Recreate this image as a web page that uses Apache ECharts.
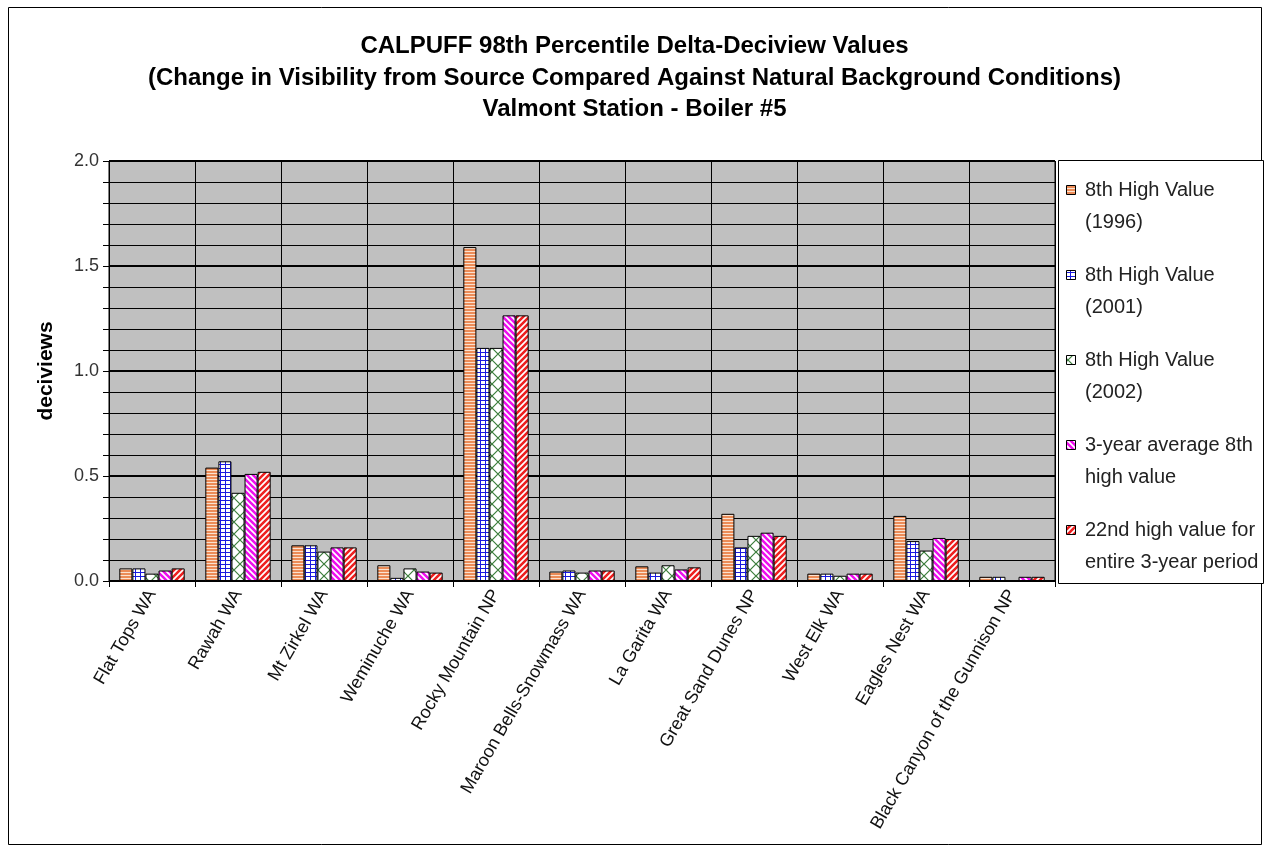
<!DOCTYPE html>
<html>
<head>
<meta charset="utf-8">
<script src="https://cdn.jsdelivr.net/npm/echarts@6/dist/echarts.min.js"></script>
<style>
html,body{margin:0;padding:0;background:#fff;}
#chart{width:1269px;height:850px;}
</style>
</head>
<body>
<div id="chart"></div>
<script>
const categories = ['Flat Tops WA','Rawah WA','Mt Zirkel WA','Weminuche WA','Rocky Mountain NP','Maroon Bells-Snowmass WA','La Garita WA','Great Sand Dunes NP','West Elk WA','Eagles Nest WA','Black Canyon of the Gunnison NP'];
const seriesNames = ['8th High Value (1996)','8th High Value (2001)','8th High Value (2002)','3-year average 8th high value','22nd high value for entire 3-year period'];
const legendLines = [['8th High Value','(1996)'],['8th High Value','(2001)'],['8th High Value','(2002)'],['3-year average 8th','high value'],['22nd high value for','entire 3-year period']];
const high1996 = [0.06, 0.54, 0.17, 0.075, 1.59, 0.045, 0.07, 0.32, 0.035, 0.31, 0.02];
const high2001 = [0.06, 0.57, 0.17, 0.015, 1.11, 0.05, 0.04, 0.16, 0.035, 0.19, 0.02];
const high2002 = [0.035, 0.42, 0.14, 0.06, 1.11, 0.04, 0.075, 0.215, 0.025, 0.145, 0];
const avg3yr = [0.05, 0.51, 0.16, 0.045, 1.265, 0.05, 0.055, 0.23, 0.035, 0.205, 0.02];
const high22nd = [0.06, 0.52, 0.16, 0.04, 1.265, 0.05, 0.065, 0.215, 0.035, 0.2, 0.02];
const yTicks = [0, 0.5, 1.0, 1.5, 2.0];

function pattern(kind){
  const c = document.createElement('canvas');
  let ctx;
  if(kind==='hstripe'){
    c.width=4; c.height=3; ctx=c.getContext('2d');
    ctx.fillStyle='#fbe2d0'; ctx.fillRect(0,0,4,3);
    ctx.fillStyle='#ec8c58'; ctx.fillRect(0,0,4,2);
  } else if(kind==='grid'){
    c.width=5; c.height=4; ctx=c.getContext('2d');
    ctx.fillStyle='#ffffff'; ctx.fillRect(0,0,5,4);
    ctx.fillStyle='#1a1ae0'; ctx.fillRect(0,0,5,1); ctx.fillRect(0,0,1,4);
  } else if(kind==='cross'){
    c.width=12; c.height=12; ctx=c.getContext('2d');
    ctx.fillStyle='#ffffff'; ctx.fillRect(0,0,12,12);
    ctx.strokeStyle='#3b7d3b'; ctx.lineWidth=1.2;
    ctx.beginPath(); ctx.moveTo(0,0); ctx.lineTo(12,12); ctx.moveTo(12,0); ctx.lineTo(0,12); ctx.stroke();
  } else if(kind==='bdiag'){
    c.width=6; c.height=6; ctx=c.getContext('2d');
    ctx.fillStyle='#ffffff'; ctx.fillRect(0,0,6,6);
    ctx.strokeStyle='#ee10ee'; ctx.lineWidth=2.6;
    ctx.beginPath();
    for(let k=-2;k<=2;k++){ ctx.moveTo(k*6-6,-6); ctx.lineTo(k*6+12,12); }
    ctx.stroke();
  } else if(kind==='fdiag'){
    c.width=6; c.height=6; ctx=c.getContext('2d');
    ctx.fillStyle='#ffffff'; ctx.fillRect(0,0,6,6);
    ctx.strokeStyle='#ee2020'; ctx.lineWidth=2.6;
    ctx.beginPath();
    for(let k=-2;k<=2;k++){ ctx.moveTo(k*6+12,-6); ctx.lineTo(k*6-6,12); }
    ctx.stroke();
  }
  return {image:c, repeat:'repeat'};
}
const patterns = [pattern('hstripe'), pattern('grid'), pattern('cross'), pattern('bdiag'), pattern('fdiag')];
const values = [high1996, high2001, high2002, avg3yr, high22nd];

const chart = echarts.init(document.getElementById('chart'), null, {renderer:'canvas'});
const FONT = 'Liberation Sans, Arial, sans-serif';

const legendGraphics = [];
legendLines.forEach((lines, i) => {
  const y0 = 190 + i*85;
  legendGraphics.push({type:'rect', shape:{x:1066.5, y:y0-4.5, width:9, height:9}, style:{fill:patterns[i], stroke:'#000', lineWidth:1}});
  legendGraphics.push({type:'text', x:1085, y:y0, style:{text:lines[0], font:'20px '+FONT, fill:'#222', verticalAlign:'middle'}});
  legendGraphics.push({type:'text', x:1085, y:y0+32, style:{text:lines[1], font:'20px '+FONT, fill:'#222', verticalAlign:'middle'}});
});

chart.setOption({
  animation:false,
  backgroundColor:'#ffffff',
  textStyle:{fontFamily:FONT},
  title:{
    text:'CALPUFF 98th Percentile Delta-Deciview Values\n(Change in Visibility from Source Compared Against Natural Background Conditions)\nValmont Station - Boiler #5',
    left:'center', top:31, padding:0,
    textStyle:{fontFamily:FONT, fontWeight:'bold', fontSize:24, lineHeight:31.5, color:'#000'}
  },
  grid:{left:109, right:214, top:161, bottom:269, show:true, backgroundColor:'#c0c0c0', borderColor:'#000', borderWidth:1},
  xAxis:{
    type:'category', data:categories,
    axisLine:{lineStyle:{color:'#000', width:1}},
    axisTick:{show:true, length:6, lineStyle:{color:'#000'}},
    splitLine:{show:true, lineStyle:{color:'#000', width:1}},
    axisLabel:{interval:0, rotate:60, fontSize:18, color:'#111', margin:10, fontFamily:FONT}
  },
  yAxis:{
    type:'value', min:0, max:2, interval:0.5,
    name:'deciviews', nameLocation:'middle', nameGap:52,
    nameTextStyle:{fontFamily:FONT, fontWeight:'bold', fontSize:21, color:'#000'},
    axisLine:{show:true, lineStyle:{color:'#000'}},
    axisTick:{show:true, length:6, lineStyle:{color:'#000'}},
    minorTick:{show:true, splitNumber:5, length:6, lineStyle:{color:'#000'}},
    splitLine:{show:true, lineStyle:{color:'#000', width:2}},
    minorSplitLine:{show:true, lineStyle:{color:'#000', width:1}},
    axisLabel:{formatter:(v)=>v.toFixed(1), fontSize:18, color:'#333', margin:10, fontFamily:FONT}
  },
  series: seriesNames.map((name, i) => ({
    name:name, type:'bar', data:values[i],
    barGap:'0%', barCategoryGap:'24%',
    itemStyle:{color:patterns[i], borderColor:'#000', borderWidth:1}
  })),
  graphic:[
    {type:'rect', shape:{x:8.5, y:7.5, width:1253, height:837}, style:{fill:null, stroke:'#000', lineWidth:1}, silent:true, z:-1},
    {type:'rect', shape:{x:1058.5, y:160.5, width:205, height:423}, style:{fill:'#fff', stroke:'#000', lineWidth:1}},
    ...legendGraphics
  ]
});
</script>
</body>
</html>
